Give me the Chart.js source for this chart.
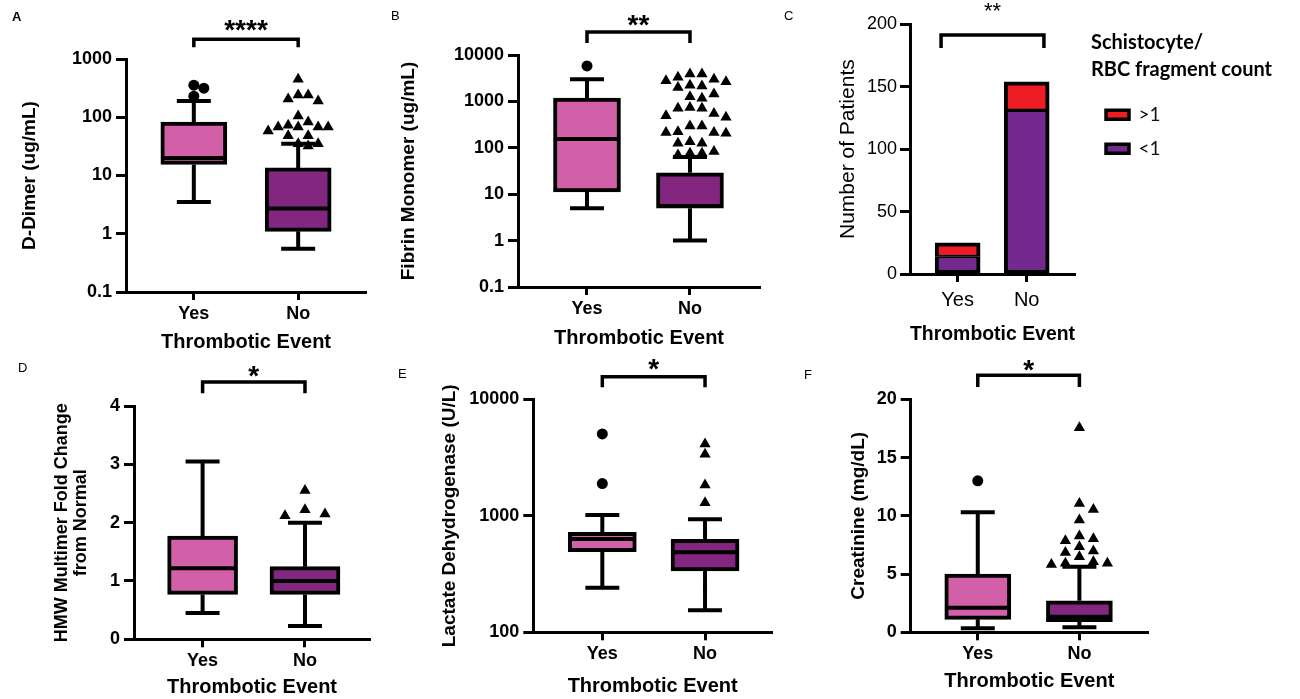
<!DOCTYPE html>
<html>
<head>
<meta charset="utf-8">
<script src="https://cdn.jsdelivr.net/npm/chart.js@4.4.1/dist/chart.umd.min.js"></script>
<style>
  html, body { margin:0; padding:0; background:#fff; }
  body { width:1300px; height:699px; position:relative; overflow:hidden; font-family:"Liberation Sans", Arial, sans-serif; }
  .panel { position:absolute; }
  .tag { position:absolute; font-size:13px; line-height:16px; color:#000; }
</style>
</head>
<body>
<div class="tag" style="left:12px;top:9px;font-weight:bold;">A</div>
<div class="tag" style="left:391px;top:8px;">B</div>
<div class="tag" style="left:784px;top:8px;">C</div>
<div class="tag" style="left:18px;top:360px;">D</div>
<div class="tag" style="left:398px;top:366px;">E</div>
<div class="tag" style="left:804px;top:367px;">F</div>
<script>
// ---------------- DATA ----------------
const groups = ['Yes', 'No'];
const xTitle = 'Thrombotic Event';

// A: D-Dimer (ug/mL)
const dDimerMin = [3.5, 0.55];
const dDimerQ1 = [15.5, 1.1];
const dDimerMedian = [20, 2.7];
const dDimerQ3 = [83, 13.5];
const dDimerMax = [190, 35];
const dDimerOutliersYes = [355, 316, 230];
const dDimerOutliersNo = [450, 240, 240, 205, 190, 105, 83, 73, 68, 68, 68, 68, 58, 48, 48, 35, 35, 32];
const dDimerTicks = [0.1, 1, 10, 100, 1000];

// B: Fibrin Monomer (ug/mL)
const fibrinMin = [5, 1];
const fibrinQ1 = [11.2, 5];
const fibrinMedian = [155, 5.6];
const fibrinQ3 = [1180, 29];
const fibrinMax = [3000, 63];
const fibrinOutliersYes = [5800];
const fibrinOutliersNo = [3890, 3890, 3300, 3020, 2800, 2650, 2240, 2140, 2000, 1440, 1260, 1170, 740, 710, 710, 550, 490, 455, 295, 295, 223, 213, 213, 205, 135, 125, 125, 83, 76, 76, 70];
const fibrinTicks = [0.1, 1, 10, 100, 1000, 10000];

// C: Schistocyte / RBC fragment count
const schistoBelow1 = [14, 131];
const schistoAbove1 = [11, 23];
const patientTicks = [0, 50, 100, 150, 200];

// D: HMW Multimer Fold Change from Normal
const hmwMin = [0.45, 0.23];
const hmwQ1 = [0.77, 0.77];
const hmwMedian = [1.22, 1.0];
const hmwQ3 = [1.77, 1.245];
const hmwMax = [3.05, 2.0];
const hmwOutliersYes = [];
const hmwOutliersNo = [2.55, 2.22, 2.15, 2.12];
const hmwTicks = [0, 1, 2, 3, 4];

// E: Lactate Dehydrogenase (U/L)
const ldhMin = [241, 155];
const ldhQ1 = [492, 336];
const ldhMedian = [632, 486];
const ldhQ3 = [722, 628];
const ldhMax = [1016, 933];
const ldhOutliersYes = [5040, 1890];
const ldhOutliersNo = [4130, 3370, 1840, 1295];
const ldhTicks = [100, 1000, 10000];

// F: Creatinine (mg/dL)
const creatMin = [0.34, 0.43];
const creatQ1 = [1.11, 0.91];
const creatMedian = [2.11, 1.34];
const creatQ3 = [5.0, 2.71];
const creatMax = [10.3, 5.63];
const creatOutliersYes = [13];
const creatOutliersNo = [17.55, 11.06, 10.55, 9.63, 8.26, 8.03, 7.86, 7.34, 6.97, 6.86, 6.48, 6.06, 5.92, 5.92, 5.83];
const creatTicks = [0, 5, 10, 15, 20];

const sigLabels = ['****', '**', '**', '*', '*', '*'];

// ---------------- STYLE / HELPERS ----------------
const FONT = '"Liberation Sans", Arial, sans-serif';
const PINK = '#D160A8';
const PURPLE = '#82267F';
const C_PURPLE = '#74298F';
const C_RED = '#EE1C24';
Chart.defaults.color = '#000';
Chart.defaults.font.family = FONT;
Chart.defaults.animation = false;

const sigPlugin = {
  id: 'sig',
  afterDatasetsDraw(chart, args, opts) {
    if (!opts || !opts.text) return;
    const {ctx} = chart;
    const x = chart.scales.x, y = chart.scales.y;
    ctx.save();
    ctx.font = (opts.weight || 'bold') + ' ' + opts.size + 'px ' + FONT;
    ctx.fillStyle = '#000';
    ctx.textAlign = 'center';
    ctx.textBaseline = 'middle';
    ctx.fillText(opts.text, x.getPixelForValue(opts.x), y.getPixelForValue(opts.y) + opts.size * 0.23);
    ctx.restore();
  }
};
// moves the legend box a little right of the plot and widens its box so the title is not clipped
const legendShift = {
  id: 'legendShift',
  afterLayout(chart, args, opts) {
    if (opts && opts.dx && chart.legend) {
      const lg = chart.legend;
      lg.left = chart.chartArea.right + opts.dx;
      lg.right = chart.width;
      lg.width = lg.right - lg.left;
    }
  }
};
Chart.register(sigPlugin, legendShift);

function mount(p) {
  const d = document.createElement('div');
  d.className = 'panel';
  d.style.left = p.left + 'px';
  d.style.top = p.top + 'px';
  d.style.width = p.w + 'px';
  d.style.height = p.h + 'px';
  const c = document.createElement('canvas');
  d.appendChild(c);
  document.body.insertBefore(d, document.body.firstChild);
  return c;
}

// simple beeswarm: spread points with overlapping values sideways
function swarm(values, center, geo, step) {
  const t = v => geo.log ? Math.log10(v) : v;
  const lo = t(geo.min), hi = t(geo.max);
  const placed = [];
  const out = [];
  const order = values.map((v, i) => i).sort((a, b) => values[b] - values[a]);
  order.forEach(i => {
    const py = (t(values[i]) - lo) / (hi - lo) * geo.height;
    let off = 0;
    for (let n = 0; n < 40; n++) {
      off = n === 0 ? 0 : (n % 2 ? 1 : -1) * Math.ceil(n / 2) * step;
      const hit = placed.some(q => Math.abs(q.x - off) < step * 0.9 && Math.abs(q.y - py) < 10);
      if (!hit) break;
    }
    placed.push({x: off, y: py});
    out.push({x: center + off / geo.unit, y: values[i]});
  });
  return out;
}

function axisLines(tickLen) {
  return {
    grid: { display: true, drawOnChartArea: false, drawTicks: true, tickLength: tickLen, tickWidth: 3, tickColor: '#000', offset: false },
    border: { display: true, color: '#000', width: 3 }
  };
}

const lineBase = { type: 'line', borderColor: '#000', pointRadius: 0, pointHoverRadius: 0, fill: false, tension: 0, spanGaps: false, borderCapStyle: 'butt', borderJoinStyle: 'miter' };
const xTitleFont = {size: 20, weight: 'bold', lineHeight: 1.2};
const yTitleFont = {size: 19, weight: 'bold', lineHeight: 1.2};

function boxChart(p) {
  const canvas = mount(p);
  const areaW = p.w - p.pad.left - p.pad.right - p.yW;
  const areaH = p.h - p.pad.top - p.pad.bottom - p.xH;
  const geo = { log: p.log, min: p.yMin, max: p.yMax, height: areaH, unit: areaW / (p.xMax - p.xMin) };
  const half = (p.boxPx / 2 - 2) / geo.unit;
  const cap = p.capPx / 2 / geo.unit;
  const gap = i => ({x: i, y: null});
  const box = groups.map((g, i) => ({x: i, y: [p.q1[i], p.q3[i]]}));
  const med = [], whisk = [];
  groups.forEach((g, i) => {
    med.push({x: i - half, y: p.med[i]}, {x: i + half, y: p.med[i]}, gap(i));
    whisk.push({x: i, y: p.max[i]}, {x: i, y: p.q3[i]}, gap(i),
               {x: i, y: p.q1[i]}, {x: i, y: p.min[i]}, gap(i),
               {x: i - cap, y: p.max[i]}, {x: i + cap, y: p.max[i]}, gap(i),
               {x: i - cap, y: p.min[i]}, {x: i + cap, y: p.min[i]}, gap(i));
  });
  const b = p.bracket;
  const bracket = [{x: b.x0, y: b.end}, {x: b.x0, y: b.top}, {x: b.x1, y: b.top}, {x: b.x1, y: b.end}];

  return new Chart(canvas, {
    type: 'scatter',
    data: { datasets: [
      { type: 'scatter', data: swarm(p.outYes, 0, geo, p.step), pointStyle: 'circle', pointRadius: 5.5, pointHoverRadius: 5.5, backgroundColor: '#000', borderColor: '#000', borderWidth: 0, order: 0 },
      { type: 'scatter', data: swarm(p.outNo, 1, geo, p.step), pointStyle: 'triangle', pointRadius: 6.5, pointHoverRadius: 6.5, backgroundColor: '#000', borderColor: '#000', borderWidth: 0, order: 0 },
      Object.assign({}, lineBase, { data: med, borderWidth: 4, order: 1 }),
      { type: 'bar', data: box, backgroundColor: [PINK, PURPLE], borderColor: '#000', borderWidth: 4, borderSkipped: false, barThickness: p.boxPx, order: 2 },
      Object.assign({}, lineBase, { data: whisk, borderWidth: 4, order: 3 }),
      Object.assign({}, lineBase, { data: bracket, borderWidth: 3.5, clip: false, order: 4 })
    ]},
    options: {
      responsive: true, maintainAspectRatio: false, animation: false, events: [],
      layout: { padding: p.pad, autoPadding: false },
      plugins: {
        legend: { display: false }, tooltip: { enabled: false },
        sig: { text: p.sig, x: (b.x0 + b.x1) / 2, y: b.star, size: 28, weight: 'bold' }
      },
      scales: {
        x: Object.assign({
          type: 'linear', min: p.xMin, max: p.xMax, bounds: 'data', offset: false,
          afterBuildTicks: s => { s.ticks = groups.map((g, i) => ({value: i})); },
          afterFit: s => { s.height = p.xH; },
          ticks: { callback: v => groups[v], font: {size: 18, weight: 'bold'}, color: '#000', padding: 3, autoSkip: false, maxRotation: 0, minRotation: 0 },
          title: { display: true, text: xTitle, color: '#000', font: xTitleFont, padding: {top: 0, bottom: 0} }
        }, axisLines(8)),
        y: Object.assign({
          type: p.log ? 'logarithmic' : 'linear', min: p.yMin, max: p.yMax, bounds: 'data',
          afterBuildTicks: s => { s.ticks = p.ticks.map(v => ({value: v})); },
          afterFit: s => { s.width = p.yW; },
          ticks: { callback: v => String(v), font: {size: 18, weight: 'bold'}, color: '#000', padding: 4, autoSkip: false },
          title: { display: true, text: p.yTitle, color: '#000', font: p.yTitleFont, padding: {top: p.yTitlePad, bottom: 0} }
        }, axisLines(10))
      }
    }
  });
}

// ---------------- PANELS ----------------
boxChart({
  left: 0, top: 0, w: 380, h: 354, pad: {top: 59, right: 14, bottom: 0, left: 0}, yW: 126, xH: 62,
  xMin: -0.65, xMax: 1.65, log: true, yMin: 0.1, yMax: 1000, ticks: dDimerTicks,
  yTitle: 'D-Dimer (ug/mL)', yTitleFont: yTitleFont, yTitlePad: 18.6,
  min: dDimerMin, q1: dDimerQ1, med: dDimerMedian, q3: dDimerQ3, max: dDimerMax,
  outYes: dDimerOutliersYes, outNo: dDimerOutliersNo,
  boxPx: 66, capPx: 34, step: 10,
  bracket: {x0: 0, x1: 1, top: 2190, end: 1585, star: 3800}, sig: sigLabels[0]
});

boxChart({
  left: 370, top: 0, w: 400, h: 350, pad: {top: 55, right: 10, bottom: 0, left: 0}, yW: 148, xH: 63,
  xMin: -0.67, xMax: 1.68, log: true, yMin: 0.1, yMax: 10000, ticks: fibrinTicks,
  yTitle: 'Fibrin Monomer (ug/mL)', yTitleFont: yTitleFont, yTitlePad: 27.6,
  min: fibrinMin, q1: fibrinQ1, med: fibrinMedian, q3: fibrinQ3, max: fibrinMax,
  outYes: fibrinOutliersYes, outNo: fibrinOutliersNo,
  boxPx: 67, capPx: 34, step: 12,
  bracket: {x0: 0, x1: 1, top: 31300, end: 18150, star: 56800}, sig: sigLabels[1]
});

boxChart({
  left: 0, top: 350, w: 380, h: 349, pad: {top: 56, right: 10, bottom: 0, left: 0}, yW: 134, xH: 59.7,
  xMin: -0.67, xMax: 1.635, log: false, yMin: 0, yMax: 4, ticks: hmwTicks,
  yTitle: ['HMW Multimer Fold Change', 'from Normal'], yTitleFont: {size: 18, weight: 'bold', lineHeight: 1.1}, yTitlePad: 51.8,
  min: hmwMin, q1: hmwQ1, med: hmwMedian, q3: hmwQ3, max: hmwMax,
  outYes: hmwOutliersYes, outNo: hmwOutliersNo,
  boxPx: 70, capPx: 34, step: 20,
  bracket: {x0: 0, x1: 1, top: 4.41, end: 4.22, star: 4.607}, sig: sigLabels[3]
});

boxChart({
  left: 370, top: 350, w: 410, h: 348, pad: {top: 49.3, right: 8, bottom: 0, left: 0}, yW: 163.3, xH: 65.7,
  xMin: -0.672, xMax: 1.652, log: true, yMin: 100, yMax: 10000, ticks: ldhTicks,
  yTitle: 'Lactate Dehydrogenase (U/L)', yTitleFont: yTitleFont, yTitlePad: 68.6,
  min: ldhMin, q1: ldhQ1, med: ldhMedian, q3: ldhQ3, max: ldhMax,
  outYes: ldhOutliersYes, outNo: ldhOutliersNo,
  boxPx: 68, capPx: 34, step: 0,
  bracket: {x0: 0, x1: 1, top: 15630, end: 12680, star: 20100}, sig: sigLabels[4]
});

boxChart({
  left: 770, top: 350, w: 400, h: 343, pad: {top: 49.3, right: 22, bottom: 0, left: 0}, yW: 140.7, xH: 60.7,
  xMin: -0.66, xMax: 1.675, log: false, yMin: 0, yMax: 20, ticks: creatTicks,
  yTitle: 'Creatinine (mg/dL)', yTitleFont: yTitleFont, yTitlePad: 76.9,
  min: creatMin, q1: creatQ1, med: creatMedian, q3: creatQ3, max: creatMax,
  outYes: creatOutliersYes, outNo: creatOutliersNo,
  boxPx: 66, capPx: 34, step: 14,
  bracket: {x0: 0, x1: 1, top: 22.07, end: 21.06, star: 23.0}, sig: sigLabels[5]
});

// C: stacked bars
(function () {
  const p = {left: 770, top: 0, w: 530, h: 346, pad: {top: 24.3, right: 175, bottom: 0, left: 0}, yW: 140, xH: 72};
  const canvas = mount(p);
  const br = {x0: -0.24, x1: 1.25, top: 191.5, end: 181, star: 214};
  new Chart(canvas, {
    type: 'scatter',
    data: { datasets: [
      Object.assign({}, lineBase, { label: '_bracket', data: [{x: br.x0, y: br.end}, {x: br.x0, y: br.top}, {x: br.x1, y: br.top}, {x: br.x1, y: br.end}], borderWidth: 3.5, clip: false }),
      { type: 'bar', label: '<1', data: groups.map((g, i) => ({x: i, y: schistoBelow1[i]})), backgroundColor: C_PURPLE, borderColor: '#000', borderWidth: {top: 2, right: 4, bottom: 4, left: 4}, borderSkipped: false, barThickness: 45, stack: 's' },
      { type: 'bar', label: '>1', data: groups.map((g, i) => ({x: i, y: schistoAbove1[i]})), backgroundColor: C_RED, borderColor: '#000', borderWidth: {top: 4, right: 4, bottom: 2, left: 4}, borderSkipped: false, barThickness: 45, stack: 's' }
    ]},
    options: {
      responsive: true, maintainAspectRatio: false, animation: false, events: [],
      layout: { padding: p.pad, autoPadding: false },
      plugins: {
        tooltip: { enabled: false },
        legendShift: { dx: 16 },
        sig: { text: sigLabels[2], x: (br.x0 + br.x1) / 2, y: br.star, size: 22, weight: 'normal' },
        legend: {
          display: true, position: 'right', align: 'start', reverse: true, maxWidth: 50,
          title: { display: true, position: 'start', color: '#000', text: ['Schistocyte/', 'RBC fragment count'],
                   font: {family: 'Lato', size: 20, weight: 'bold', lineHeight: 1.33}, padding: {top: 8.4, bottom: 31} },
          labels: { boxWidth: 23, boxHeight: 9, padding: 15, color: '#111', font: {family: 'Lato', size: 19, lineHeight: 1},
                    filter: item => item.text !== '_bracket' }
        }
      },
      scales: {
        x: Object.assign({
          type: 'linear', min: -0.69, max: 1.70, bounds: 'data', offset: false,
          afterBuildTicks: s => { s.ticks = groups.map((g, i) => ({value: i})); },
          afterFit: s => { s.height = p.xH; },
          ticks: { callback: v => groups[v], font: {size: 20, weight: 'normal'}, color: '#000', padding: 6, autoSkip: false, maxRotation: 0, minRotation: 0 },
          title: { display: true, text: xTitle, color: '#000', font: xTitleFont, padding: {top: 0, bottom: 0} }
        }, axisLines(8)),
        y: Object.assign({
          type: 'linear', min: 0, max: 200, bounds: 'data',
          afterBuildTicks: s => { s.ticks = patientTicks.map(v => ({value: v})); },
          afterFit: s => { s.width = p.yW; },
          ticks: { callback: v => String(v), font: {size: 18, weight: 'normal'}, color: '#000', padding: 3, autoSkip: false },
          title: { display: true, text: 'Number of Patients', color: '#000', font: {size: 21, weight: 'normal', lineHeight: 1.2}, padding: {top: 65.4, bottom: 0} }
        }, axisLines(10))
      }
    }
  });
})();
</script>
</body>
</html>
